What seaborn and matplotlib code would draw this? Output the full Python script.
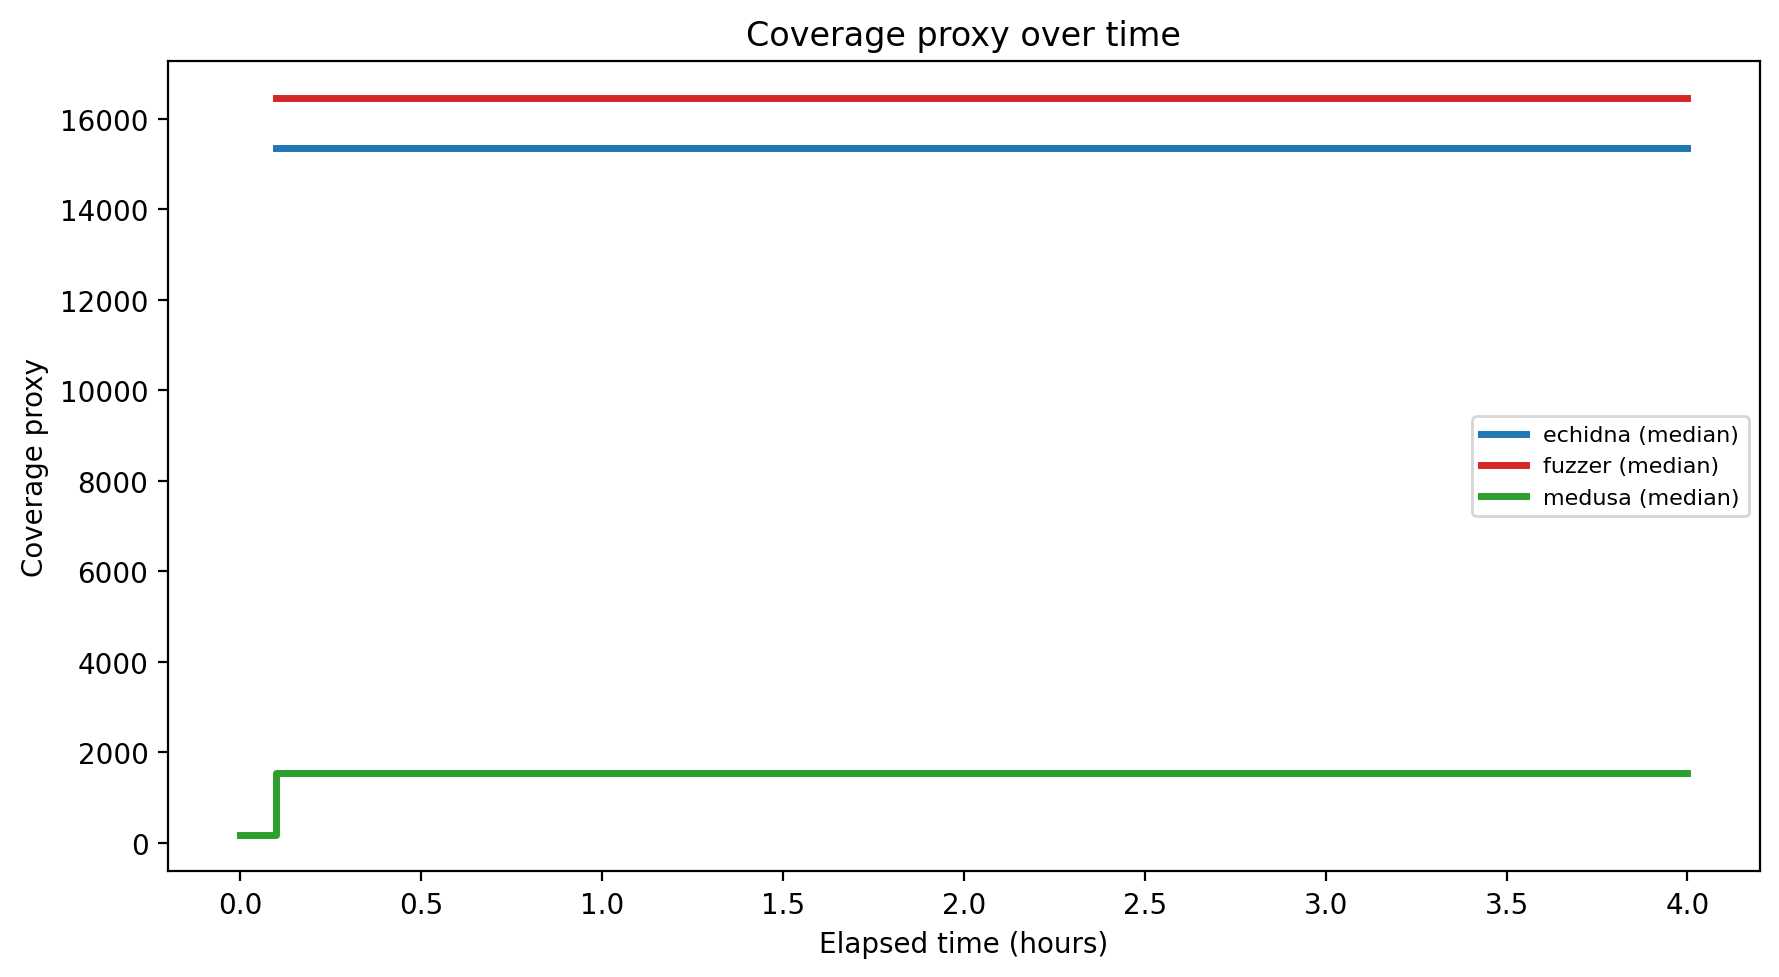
import pandas as pd
import matplotlib
matplotlib.use("Agg")
import matplotlib.pyplot as plt
import seaborn as sns

# median coverage proxy per tool (step curves)
echidna_hours = [0.1, 4.0]
echidna_cov = [15350, 15350]
fuzzer_hours = [0.1, 4.0]
fuzzer_cov = [16450, 16450]
medusa_hours = [0.0, 0.1, 4.0]
medusa_cov = [175, 1535, 1535]

series = [
    ("echidna (median)", echidna_hours, echidna_cov, "#1f77b4"),
    ("fuzzer (median)", fuzzer_hours, fuzzer_cov, "#d62728"),
    ("medusa (median)", medusa_hours, medusa_cov, "#2ca02c"),
]

fig, ax = plt.subplots(figsize=(8.895, 4.89), dpi=200)
for name, hrs, cov, col in series:
    df = pd.DataFrame({"hours": hrs, "cov": cov})
    sns.lineplot(data=df, x="hours", y="cov", ax=ax, color=col, lw=2.5,
                 drawstyle="steps-post", label=name)

ax.set_title("Coverage proxy over time")
ax.set_xlabel("Elapsed time (hours)")
ax.set_ylabel("Coverage proxy")
ax.legend(loc="center right", fontsize=8)
fig.subplots_adjust(left=0.0944, right=0.9892, top=0.9362, bottom=0.1079)
fig.savefig("out.png")
